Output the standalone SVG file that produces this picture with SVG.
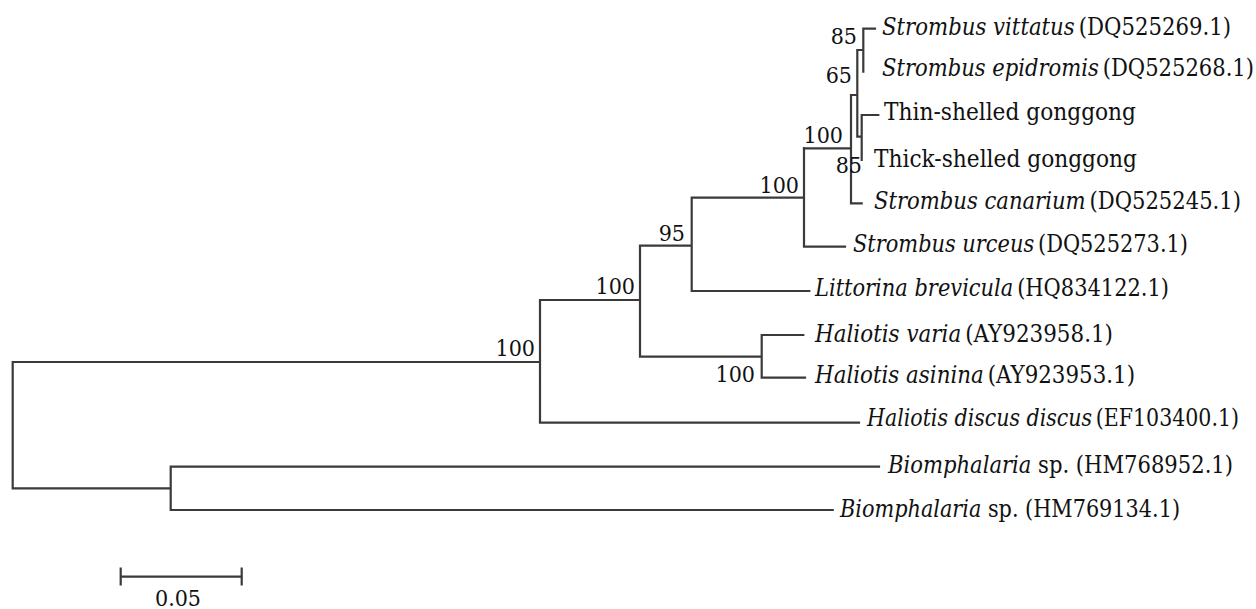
<svg xmlns="http://www.w3.org/2000/svg" width="1256" height="609" viewBox="0 0 1256 609">
<style>
.br{fill:none;stroke:#3a3a3a;stroke-width:2.2;stroke-linecap:square}
.lf{font-family:"DejaVu Serif Condensed","DejaVu Serif",serif;font-stretch:condensed;font-size:24px;fill:#111}
.bs{font-family:"DejaVu Serif Condensed","DejaVu Serif",serif;font-stretch:condensed;font-size:23px;fill:#111;text-anchor:end}
.it{font-style:italic}
</style>
<rect width="1256" height="609" fill="#fff"/>
<g id="connectors">
<path class="br" d="M863.3,28.7H875M863.3,28.7V71.7M857.3,50H863.3M857.3,50V136.7M857.3,136.7H861.7M861.7,115V160M861.7,115H878.3M851,95H857.3M851,95V203.3M851,203.3H861.7M804,148.3H851"/>
<path class="br" d="M804,148.3V246.7M691.7,197.7H804M804,246.7H845M691.7,197.7V291M640,245.7H691.7M691.7,291H809.3M640,245.7V356.7M540,300H640M640,356.7H761.7M761.7,335V377.7M761.7,335H803.3M761.7,377.7H805M540,300V422.7M12.7,362H540M540,422.7H859M12.7,362V488.3M12.7,488.3H170.7M170.7,466.7V510M170.7,466.7H879M170.7,510H832.7"/>
</g>
<g id="support">
<text class="bs" x="857" y="44">85</text>
<text class="bs" x="852" y="83">65</text>
<text class="bs" x="843" y="143">100</text>
<text class="bs" x="862" y="173">85</text>
<text class="bs" x="799" y="193">100</text>
<text class="bs" x="685" y="240.5">95</text>
<text class="bs" x="635" y="294">100</text>
<text class="bs" x="755" y="382">100</text>
<text class="bs" x="535" y="356">100</text>
</g>
<g id="leaf-vittatus"><text class="lf" x="882" y="35" textLength="349" lengthAdjust="spacingAndGlyphs"><tspan class="it">Strombus vittatus</tspan><tspan dx="4">(DQ525269.1)</tspan></text></g>
<g id="leaf-epidromis"><text class="lf" x="882" y="76" textLength="372" lengthAdjust="spacingAndGlyphs"><tspan class="it">Strombus epidromis</tspan><tspan dx="4">(DQ525268.1)</tspan></text></g>
<g id="leaf-thin"><text class="lf" x="884" y="120" textLength="252" lengthAdjust="spacingAndGlyphs">Thin-shelled gonggong</text></g>
<g id="leaf-thick"><text class="lf" x="874" y="166.5" textLength="263" lengthAdjust="spacingAndGlyphs">Thick-shelled gonggong</text></g>
<g id="leaf-canarium"><text class="lf" x="874" y="208.5" textLength="367" lengthAdjust="spacingAndGlyphs"><tspan class="it">Strombus canarium</tspan><tspan dx="4">(DQ525245.1)</tspan></text></g>
<g id="leaf-urceus"><text class="lf" x="853" y="252" textLength="335" lengthAdjust="spacingAndGlyphs"><tspan class="it">Strombus urceus</tspan><tspan dx="4">(DQ525273.1)</tspan></text></g>
<g id="leaf-littorina"><text class="lf" x="815" y="295.5" textLength="354" lengthAdjust="spacingAndGlyphs"><tspan class="it">Littorina brevicula</tspan><tspan dx="4">(HQ834122.1)</tspan></text></g>
<g id="leaf-varia"><text class="lf" x="815" y="341.5" textLength="298" lengthAdjust="spacingAndGlyphs"><tspan class="it">Haliotis varia</tspan><tspan dx="4">(AY923958.1)</tspan></text></g>
<g id="leaf-asinina"><text class="lf" x="815" y="382.5" textLength="320" lengthAdjust="spacingAndGlyphs"><tspan class="it">Haliotis asinina</tspan><tspan dx="4">(AY923953.1)</tspan></text></g>
<g id="leaf-discus"><text class="lf" x="867" y="426" textLength="372" lengthAdjust="spacingAndGlyphs"><tspan class="it">Haliotis discus discus</tspan><tspan dx="4">(EF103400.1)</tspan></text></g>
<g id="leaf-biomph1"><text class="lf" x="888" y="473" textLength="345" lengthAdjust="spacingAndGlyphs"><tspan class="it">Biomphalaria</tspan> sp. (HM768952.1)</text></g>
<g id="leaf-biomph2"><text class="lf" x="840" y="516.5" textLength="340" lengthAdjust="spacingAndGlyphs"><tspan class="it">Biomphalaria</tspan> sp. (HM769134.1)</text></g>
<g id="scale">
<path class="br" d="M120.7,576.7H241.7M120.7,568.5V584.5M241.7,568.5V584.5"/>
<text class="bs" x="178" y="606" style="text-anchor:middle">0.05</text>
</g>
</svg>
